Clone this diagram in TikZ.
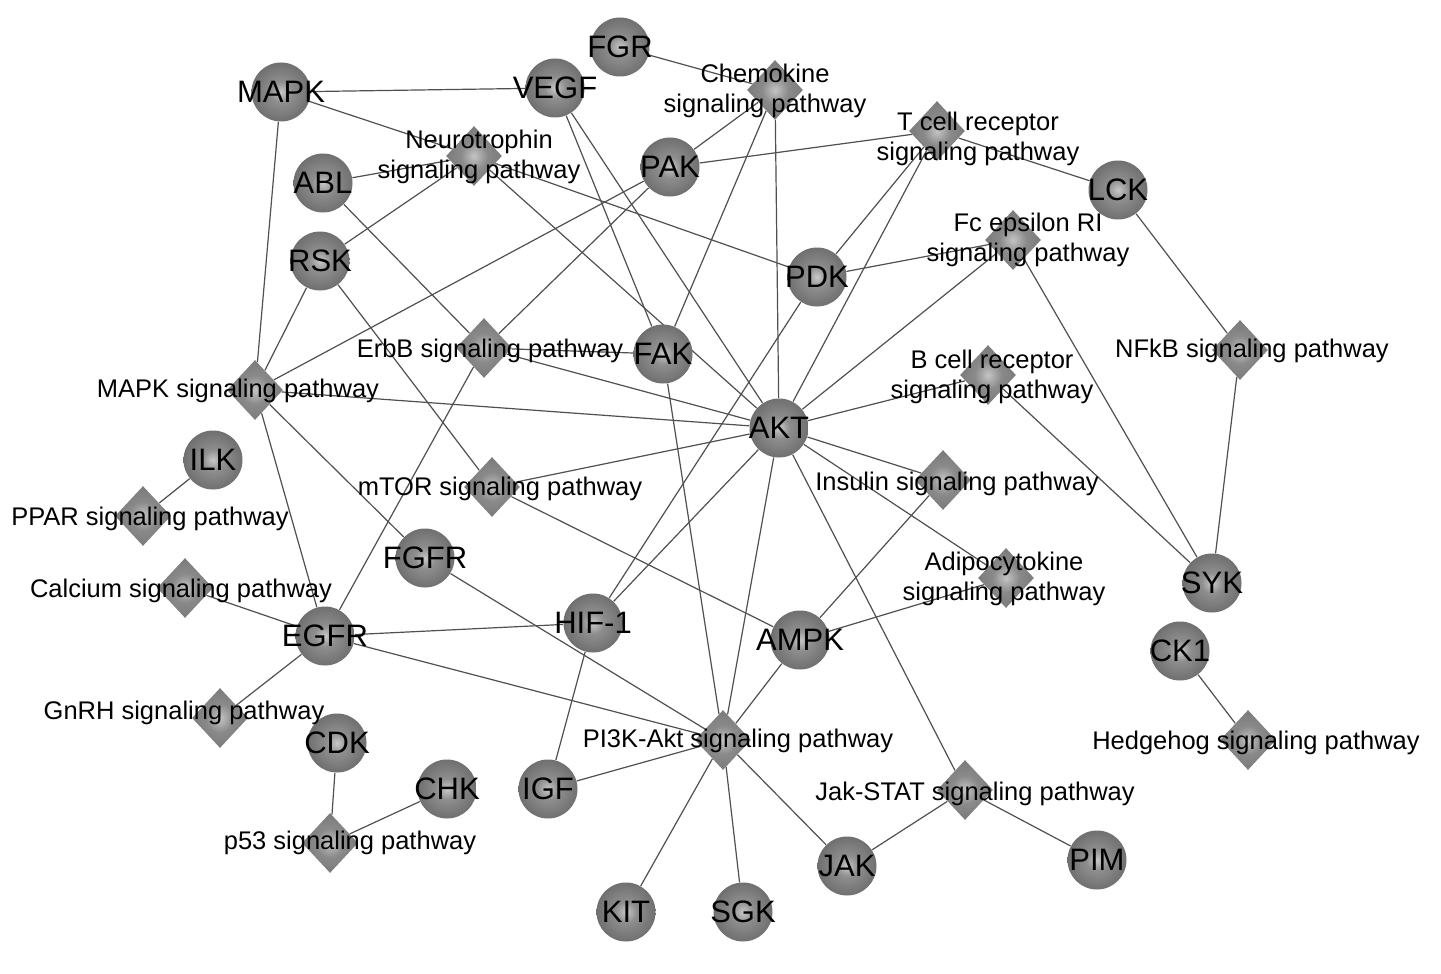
\documentclass[tikz,border=0pt]{standalone}
\usepackage{fontspec}
\setmainfont{Liberation Sans}
\usetikzlibrary{shapes.geometric}
\pgfdeclarelayer{bg}
\pgfsetlayers{bg,main}
\definecolor{gA}{HTML}{C8C8C8}
\definecolor{gB}{HTML}{8E8E8E}
\definecolor{gC}{HTML}{666666}
\definecolor{gD}{HTML}{4E4E4E}
\definecolor{pA}{HTML}{C4C4C4}
\definecolor{pB}{HTML}{8A8A8A}
\definecolor{pC}{HTML}{727272}
\definecolor{pD}{HTML}{686868}
\definecolor{edgecol}{HTML}{505050}
\pgfdeclareradialshading{geneshade}{\pgfpoint{0bp}{0bp}}{color(0bp)=(gA); color(9bp)=(gB); color(30bp)=(gC); color(50bp)=(gD)}
\pgfdeclareradialshading{pwshade}{\pgfpoint{0bp}{0bp}}{color(0bp)=(pA); color(12bp)=(pB); color(32bp)=(pC); color(50bp)=(pD)}
\newcommand{\genefont}{\fontsize{15.5}{18}\selectfont}
\newcommand{\pwfont}{\fontsize{12.75}{15}\selectfont}
\begin{document}
\begin{tikzpicture}[x=0.5pt,y=-0.5pt,
  genetext/.style={font=\genefont,text=black,inner sep=0pt},
  gene/.style={circle,minimum size=29.5pt,inner sep=0pt,shading=geneshade,label={[genetext]center:#1}},
  pw/.style={diamond,minimum width=28pt,minimum height=30pt,inner sep=0pt,shading=pwshade},
  pwlabel/.style={font=\pwfont,align=center,inner sep=0pt,text=black},
  edge/.style={draw=edgecol,line width=0.6pt}]
\useasboundingbox (0,0) rectangle (1441,974);
\begin{pgfonlayer}{bg}
\fill[white] (0,0) rectangle (1441,974);
\end{pgfonlayer}
% gene nodes
\node[gene=FGR] (FGR) at (620,47) {};
\node[gene=MAPK] (MAPK) at (281,92) {};
\node[gene=VEGF] (VEGF) at (555,88) {};
\node[gene=ABL] (ABL) at (323,183) {};
\node[gene=PAK] (PAK) at (670,167) {};
\node[gene=RSK] (RSK) at (320,261) {};
\node[gene=LCK] (LCK) at (1118,190) {};
\node[gene=PDK] (PDK) at (817,277) {};
\node[gene=FAK] (FAK) at (663,354) {};
\node[gene=AKT] (AKT) at (779,428) {};
\node[gene=ILK] (ILK) at (213,460) {};
\node[gene=FGFR] (FGFR) at (425,558) {};
\node[gene=HIF-1] (HIF) at (593,623) {};
\node[gene=AMPK] (AMPK) at (800,640) {};
\node[gene=EGFR] (EGFR) at (325,636) {};
\node[gene=SYK] (SYK) at (1212,583) {};
\node[gene=CK1] (CK1) at (1180,651) {};
\node[gene=CDK] (CDK) at (337,743) {};
\node[gene=CHK] (CHK) at (447,789) {};
\node[gene=IGF] (IGF) at (548,789) {};
\node[gene=JAK] (JAK) at (847,866) {};
\node[gene=PIM] (PIM) at (1097,860) {};
\node[gene=KIT] (KIT) at (626,912) {};
\node[gene=SGK] (SGK) at (743,912) {};
% pathway diamonds
\node[pw] (chemo) at (775,90) {};
\node[pw] (tcell) at (937,131) {};
\node[pw] (neuro) at (474,156) {};
\node[pw] (fceps) at (1013,240) {};
\node[pw] (erbb) at (484,348) {};
\node[pw] (nfkb) at (1240,350) {};
\node[pw] (mapksig) at (255,390) {};
\node[pw] (bcell) at (988,375) {};
\node[pw] (mtor) at (492,487) {};
\node[pw] (insulin) at (943,480) {};
\node[pw] (ppar) at (143,516) {};
\node[pw] (calcium) at (185,588) {};
\node[pw] (adipo) at (1006,578) {};
\node[pw] (gnrh) at (220,718) {};
\node[pw] (pik) at (723,740) {};
\node[pw] (hedgehog) at (1248,740) {};
\node[pw] (jakstat) at (965,790) {};
\node[pw] (pfs) at (330,843) {};
% pathway labels
\node[pwlabel] (chemoL) at (765,91) {Chemokine\\signaling pathway};
\node[pwlabel] (tcellL) at (978,139) {T cell receptor\\signaling pathway};
\node[pwlabel] (neuroL) at (479,157) {Neurotrophin\\signaling pathway};
\node[pwlabel] (fcepsL) at (1028,240) {Fc epsilon RI\\signaling pathway};
\node[pwlabel] (erbbL) at (490,351) {ErbB signaling pathway};
\node[pwlabel] (nfkbL) at (1252,351) {NFkB signaling pathway};
\node[pwlabel] (mapksigL) at (238,391) {MAPK signaling pathway};
\node[pwlabel] (bcellL) at (992,377) {B cell receptor\\signaling pathway};
\node[pwlabel] (mtorL) at (500,489) {mTOR signaling pathway};
\node[pwlabel] (insulinL) at (957,484) {Insulin signaling pathway};
\node[pwlabel] (pparL) at (150,519) {PPAR signaling pathway};
\node[pwlabel] (calciumL) at (181,591) {Calcium signaling pathway};
\node[pwlabel] (adipoL) at (1004,579) {Adipocytokine\\signaling pathway};
\node[pwlabel] (gnrhL) at (184,713) {GnRH signaling pathway};
\node[pwlabel] (pikL) at (738,741) {PI3K-Akt signaling pathway};
\node[pwlabel] (hedgehogL) at (1256,743) {Hedgehog signaling pathway};
\node[pwlabel] (jakstatL) at (975,794) {Jak-STAT signaling pathway};
\node[pwlabel] (pfsL) at (350,843) {p53 signaling pathway};
% edges
\begin{pgfonlayer}{bg}
\draw[edge] (MAPK) -- (VEGF);
\draw[edge] (MAPK) -- (neuro);
\draw[edge] (MAPK) -- (mapksig);
\draw[edge] (FGR) -- (chemo);
\draw[edge] (VEGF) -- (FAK);
\draw[edge] (VEGF) -- (AKT);
\draw[edge] (ABL) -- (neuro);
\draw[edge] (ABL) -- (erbb);
\draw[edge] (RSK) -- (neuro);
\draw[edge] (RSK) -- (mapksig);
\draw[edge] (RSK) -- (mtor);
\draw[edge] (neuro) -- (PDK);
\draw[edge] (neuro) -- (AKT);
\draw[edge] (PAK) -- (chemo);
\draw[edge] (PAK) -- (tcell);
\draw[edge] (PAK) -- (mapksig);
\draw[edge] (PAK) -- (erbb);
\draw[edge] (chemo) -- (FAK);
\draw[edge] (chemo) -- (AKT);
\draw[edge] (tcell) -- (LCK);
\draw[edge] (tcell) -- (PDK);
\draw[edge] (tcell) -- (AKT);
\draw[edge] (fceps) -- (PDK);
\draw[edge] (fceps) -- (AKT);
\draw[edge] (fceps) -- (SYK);
\draw[edge] (LCK) -- (nfkb);
\draw[edge] (nfkb) -- (SYK);
\draw[edge] (bcell) -- (AKT);
\draw[edge] (bcell) -- (SYK);
\draw[edge] (erbb) -- (FAK);
\draw[edge] (erbb) -- (AKT);
\draw[edge] (erbb) -- (EGFR);
\draw[edge] (mapksig) -- (AKT);
\draw[edge] (mapksig) -- (EGFR);
\draw[edge] (mapksig) -- (FGFR);
\draw[edge] (FAK) -- (pik);
\draw[edge] (mtor) -- (AKT);
\draw[edge] (mtor) -- (AMPK);
\draw[edge] (ILK) -- (ppar);
\draw[edge] (calcium) -- (EGFR);
\draw[edge] (gnrh) -- (EGFR);
\draw[edge] (EGFR) -- (HIF);
\draw[edge] (EGFR) -- (pik);
\draw[edge] (FGFR) -- (pik);
\draw[edge] (PDK) -- (HIF);
\draw[edge] (AKT) -- (HIF);
\draw[edge] (HIF) -- (IGF);
\draw[edge] (AKT) -- (insulin);
\draw[edge] (AKT) -- (adipo);
\draw[edge] (AKT) -- (jakstat);
\draw[edge] (AKT) -- (pik);
\draw[edge] (insulin) -- (AMPK);
\draw[edge] (adipo) -- (AMPK);
\draw[edge] (AMPK) -- (pik);
\draw[edge] (IGF) -- (pik);
\draw[edge] (KIT) -- (pik);
\draw[edge] (SGK) -- (pik);
\draw[edge] (JAK) -- (pik);
\draw[edge] (JAK) -- (jakstat);
\draw[edge] (PIM) -- (jakstat);
\draw[edge] (CK1) -- (hedgehog);
\draw[edge] (CDK) -- (pfs);
\draw[edge] (CHK) -- (pfs);
\end{pgfonlayer}
\end{tikzpicture}
\end{document}
